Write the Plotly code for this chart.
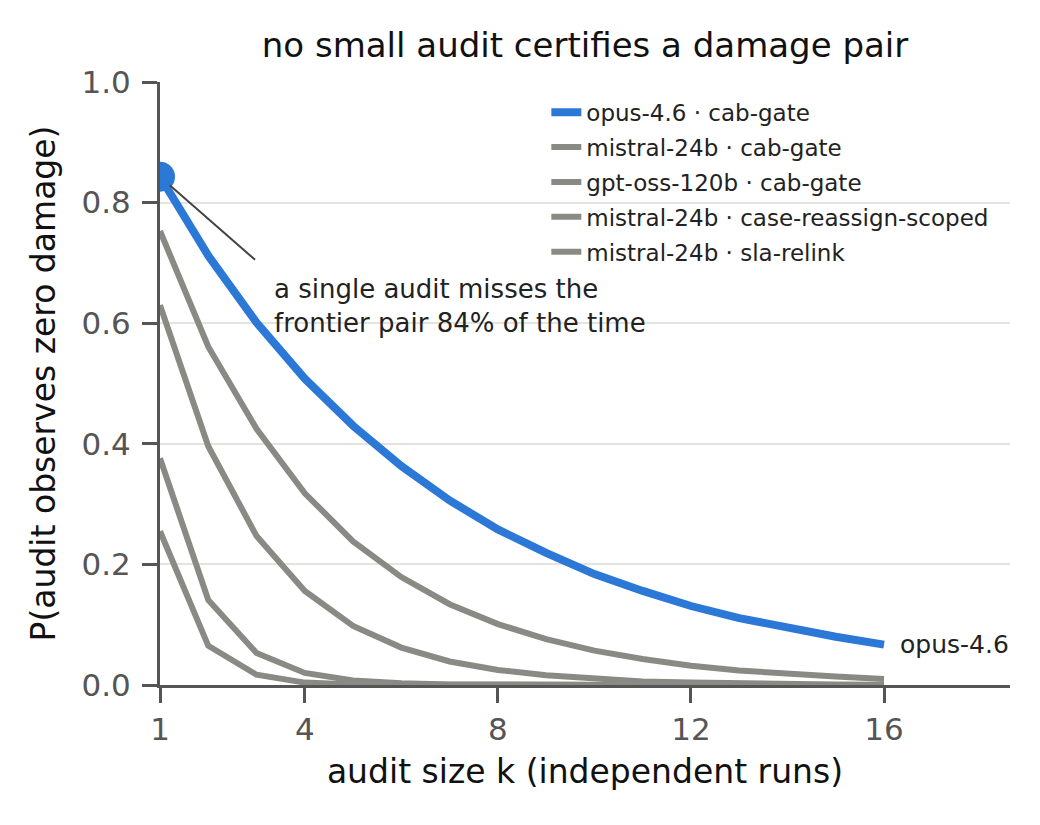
import plotly.graph_objects as go

# audit size k
k = [1, 2, 3, 4, 5, 6, 7, 8, 9, 10, 11, 12, 13, 14, 15, 16]

# P(audit observes zero damage)
opus_cab = [0.843, 0.712, 0.601, 0.508, 0.430, 0.363, 0.306, 0.258,
            0.219, 0.184, 0.156, 0.131, 0.111, 0.094, 0.080, 0.067]
mistral_cab = [0.753, 0.561, 0.425, 0.318, 0.238, 0.179, 0.134, 0.101,
               0.076, 0.057, 0.043, 0.032, 0.024, 0.018, 0.014, 0.010]
gptoss_cab = [0.630, 0.396, 0.247, 0.156, 0.098, 0.062, 0.039, 0.025,
              0.016, 0.010, 0.006, 0.004, 0.0025, 0.0016, 0.001, 0.0006]
mistral_case = [0.376, 0.141, 0.053, 0.020, 0.0075, 0.0028, 0.001, 0.0004,
                0.0002, 0.0001, 0.0, 0.0, 0.0, 0.0, 0.0, 0.0]
mistral_sla = [0.255, 0.065, 0.017, 0.004, 0.001, 0.0003, 0.0001, 0.0,
               0.0, 0.0, 0.0, 0.0, 0.0, 0.0, 0.0, 0.0]

x_ticks = [1, 4, 8, 12, 16]
y_ticks = [0.0, 0.2, 0.4, 0.6, 0.8, 1.0]

BLUE = "#2b78d6"
GREY = "#8a8a85"
AXIS = "#555555"
FONT = "DejaVu Sans"

grey_series = [
    ("mistral-24b · cab-gate", mistral_cab),
    ("gpt-oss-120b · cab-gate", gptoss_cab),
    ("mistral-24b · case-reassign-scoped", mistral_case),
    ("mistral-24b · sla-relink", mistral_sla),
]

fig = go.Figure()

for i, (name, vals) in enumerate(grey_series):
    fig.add_trace(go.Scatter(
        x=k, y=vals, mode="lines", name=name,
        line=dict(color=GREY, width=6),
        legendgroup=name, legendrank=2 + i,
    ))

fig.add_trace(go.Scatter(
    x=k, y=opus_cab, mode="lines", name="opus-4.6 · cab-gate",
    line=dict(color=BLUE, width=8),
    legendgroup="opus", legendrank=1,
))

# big dot on the single-audit point
fig.add_trace(go.Scatter(
    x=k[:1], y=opus_cab[:1], mode="markers",
    marker=dict(color=BLUE, size=30),
    showlegend=False, hoverinfo="skip",
))

# callout line to the dot
fig.add_annotation(
    x=k[0], y=opus_cab[0], ax=3.0, ay=0.703, axref="x", ayref="y",
    text="", showarrow=True, arrowhead=0, arrowwidth=2,
    arrowcolor="#444444", standoff=13,
)
fig.add_annotation(
    x=3.32, y=0.685, xref="x", yref="y",
    text="a single audit misses the<br>frontier pair 84% of the time",
    showarrow=False, xanchor="left", yanchor="top", align="left",
    font=dict(family=FONT, size=26, color="#222222"),
)

# end label
fig.add_annotation(
    x=k[-1], y=opus_cab[-1], text="opus-4.6", showarrow=False,
    xanchor="left", xshift=14,
    font=dict(family=FONT, size=25, color="#222222"),
)

# page body has an 8px margin, so the figure is sized to fit inside the window
fig.update_layout(
    width=1032, height=817,
    margin=dict(l=152, r=30, t=74, b=140, pad=0),
    paper_bgcolor="white", plot_bgcolor="white",
    font=dict(family=FONT, color="#222222"),
    title=dict(
        text="no small audit certifies a damage pair",
        x=577 / 1032, xanchor="center",
        y=1 - 37 / 817, yanchor="middle",
        font=dict(family=FONT, size=34, color="#111111"),
    ),
    showlegend=True,
    legend=dict(
        x=0.4545, y=0.9856, xanchor="left", yanchor="top",
        bgcolor="rgba(0,0,0,0)", borderwidth=0,
        traceorder="grouped", tracegroupgap=2,
        font=dict(family=FONT, size=23, color="#222222"),
    ),
)

fig.update_xaxes(
    range=[1, 18.61], tickvals=x_ticks, ticktext=[str(v) for v in x_ticks],
    showgrid=False, zeroline=False,
    showline=True, linecolor=AXIS, linewidth=3,
    ticks="outside", ticklen=15, tickwidth=3, tickcolor=AXIS,
    tickfont=dict(family=FONT, size=31, color=AXIS),
    title=dict(text="audit size k (independent runs)", standoff=14,
               font=dict(family=FONT, size=33, color="#111111")),
)
fig.update_yaxes(
    range=[0, 1], tickvals=y_ticks, ticktext=[f"{v:.1f}" for v in y_ticks],
    showgrid=True, gridcolor="#e4e4df", gridwidth=2, zeroline=False,
    showline=True, linecolor=AXIS, linewidth=3,
    ticks="outside", ticklen=15, tickwidth=3, tickcolor=AXIS,
    ticklabelstandoff=5,
    tickfont=dict(family=FONT, size=31, color=AXIS),
    title=dict(text="P(audit observes zero damage)", standoff=16,
               font=dict(family=FONT, size=33, color="#111111")),
)

fig.write_html("out.html")
